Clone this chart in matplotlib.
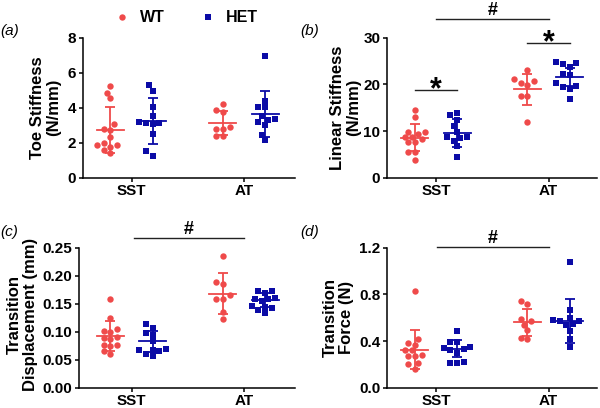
import numpy as np
import matplotlib
matplotlib.use("Agg")
import matplotlib.pyplot as plt
from matplotlib.lines import Line2D
from matplotlib.ticker import FormatStrFormatter

plt.rcParams['font.family'] = ['Liberation Sans', 'DejaVu Sans']
plt.rcParams['font.weight'] = 'bold'

groups = ["SST", "AT"]
WT_COLOR = "#EF4A4A"
HET_COLOR = "#0B0BA6"

# (a) toe stiffness
toe_wt_sst = [5.25, 4.85, 4.55, 3.05, 2.75, 2.8, 2.3, 2.0, 1.85, 1.75, 1.85, 1.4, 1.6]
toe_het_sst = [5.3, 4.97, 4.02, 3.52, 3.2, 3.1, 3.07, 3.1, 2.48, 1.5, 1.26]
toe_wt_at = [4.2, 3.77, 3.85, 2.8, 2.9, 2.8, 2.38, 2.38]
toe_het_at = [6.95, 4.4, 4.02, 4.06, 3.35, 3.3, 3.5, 3.0, 3.2, 2.45, 2.15]
toe_mean = [2.75, 3.24, 3.14, 3.63]
toe_sd = [1.31, 1.3, 0.69, 1.31]

# (b) linear stiffness
lin_wt_sst = [14.5, 13.1, 9.9, 9.9, 9.4, 8.8, 8.2, 8.8, 7.7, 7.7, 5.6, 5.6, 3.8]
lin_het_sst = [13.4, 13.8, 12.4, 11.1, 9.9, 8.8, 8.65, 7.9, 8.6, 6.8, 4.5]
lin_wt_at = [23.1, 20.7, 21.1, 19.9, 20.2, 17.6, 17.6, 12.0]
lin_het_at = [24.7, 24.3, 23.8, 24.5, 21.9, 22.2, 20.2, 19.4, 19.1, 19.6, 16.9]
lin_mean = [8.6, 9.62, 18.9, 21.5]
lin_sd = [2.85, 3.05, 3.35, 1.9]

# (c) transition displacement
disp_wt_sst = [0.158, 0.125, 0.104, 0.100, 0.102, 0.091, 0.088, 0.087, 0.077, 0.076, 0.074, 0.066, 0.060]
disp_het_sst = [0.114, 0.106, 0.097, 0.095, 0.083, 0.070, 0.068, 0.067, 0.060, 0.057, 0.066]
disp_wt_at = [0.236, 0.185, 0.188, 0.165, 0.158, 0.158, 0.136, 0.123]
disp_het_at = [0.173, 0.170, 0.173, 0.161, 0.158, 0.155, 0.158, 0.145, 0.142, 0.139, 0.146, 0.133]
disp_mean = [0.092, 0.083, 0.168, 0.157]
disp_sd = [0.027, 0.019, 0.036, 0.013]

# (d) transition force
force_wt_sst = [0.83, 0.42, 0.37, 0.38, 0.32, 0.32, 0.28, 0.27, 0.27, 0.21, 0.20, 0.16]
force_het_sst = [0.49, 0.39, 0.39, 0.35, 0.34, 0.33, 0.32, 0.30, 0.22, 0.21, 0.21]
force_wt_at = [0.745, 0.72, 0.575, 0.585, 0.54, 0.495, 0.415, 0.43]
force_het_at = [1.075, 0.67, 0.60, 0.57, 0.58, 0.57, 0.54, 0.55, 0.49, 0.42, 0.35]
force_mean = [0.327, 0.335, 0.56, 0.575]
force_sd = [0.168, 0.075, 0.115, 0.189]

W, H = 600, 408
XUNIT = 112.5   # pixels between SST and AT
OFF = 0.187     # WT / HET offset from group centre

fig = plt.figure(figsize=(6, 4.08), dpi=100)


def add_panel(left, top, right, bottom, sst_px, ymax):
    ax = fig.add_axes([left / W, 1 - bottom / H, (right - left) / W, (bottom - top) / H])
    ax.set_xlim((left - sst_px) / XUNIT, (right - sst_px) / XUNIT)
    ax.set_ylim(0, ymax)
    for s in ("top", "right"):
        ax.spines[s].set_visible(False)
    for s in ("left", "bottom"):
        ax.spines[s].set_linewidth(1.1)
    ax.set_xticks([0, 1])
    ax.set_xticklabels(groups)
    ax.tick_params(direction="out", length=3, width=1.1, labelsize=11, pad=2)
    ax.tick_params(axis="x", pad=1.5)
    return ax


def swarm(vals, ppu, d=6.6):
    # simple beeswarm in pixel space
    y = np.asarray(vals) * ppu
    xs = np.zeros(len(y))
    done = []
    cand = sorted(np.arange(-5, 5.01, 0.5) * d, key=lambda c: (abs(c), c))
    for i in np.argsort(y):
        for c in cand:
            if all((c - xs[j]) ** 2 + (y[i] - y[j]) ** 2 >= (0.92 * d) ** 2 for j in done):
                xs[i] = c
                break
        done.append(i)
    return xs / XUNIT


def draw(ax, series, means, sds, ppu):
    pos = [-OFF, OFF, 1 - OFF, 1 + OFF]
    cols = [WT_COLOR, HET_COLOR, WT_COLOR, HET_COLOR]
    marks = ["o", "s", "o", "s"]
    for x, vals, m, sd, c, mk in zip(pos, series, means, sds, cols, marks):
        ax.plot(x + swarm(vals, ppu), vals, mk, color=c, ms=4.6 if mk == "o" else 4.2,
                mew=0, zorder=2, clip_on=False)
        ax.plot([x - 0.12, x + 0.12], [m, m], color=c, lw=1.3, zorder=3)
        ax.errorbar(x, m, yerr=sd, color=c, lw=1.3, capsize=3.8, capthick=1.3, zorder=3)


def bracket(ax, x0, x1, y, sym, size, dy):
    ax.plot([x0, x1], [y, y], color="#222222", lw=1.0, clip_on=False)
    ax.annotate(sym, xy=((x0 + x1) / 2, y), xytext=(0, dy), textcoords="offset points",
                ha="center", va="baseline", fontsize=size, fontweight="bold",
                annotation_clip=False)


ax_a = add_panel(83, 37.7, 295, 177.7, 131.5, 8)
ax_a.set_yticks([0, 2, 4, 6, 8])
draw(ax_a, [toe_wt_sst, toe_het_sst, toe_wt_at, toe_het_at], toe_mean, toe_sd, 140 / 8)

ax_b = add_panel(387.3, 37.7, 597, 177.7, 436, 30)
ax_b.set_yticks([0, 10, 20, 30])
draw(ax_b, [lin_wt_sst, lin_het_sst, lin_wt_at, lin_het_at], lin_mean, lin_sd, 140 / 30)
bracket(ax_b, 0, 1, 33.9, "#", 13, 3)
bracket(ax_b, -OFF, OFF, 18.8, "*", 22, -6)
bracket(ax_b, 1 - OFF, 1 + OFF, 28.8, "*", 22, -6)

ax_c = add_panel(78.7, 247.7, 295, 387.7, 131.5, 0.25)
ax_c.set_yticks([0, 0.05, 0.10, 0.15, 0.20, 0.25])
ax_c.yaxis.set_major_formatter(FormatStrFormatter("%.2f"))
draw(ax_c, [disp_wt_sst, disp_het_sst, disp_wt_at, disp_het_at], disp_mean, disp_sd, 140 / 0.25)
bracket(ax_c, 0.02, 1, 0.267, "#", 13, 3)

ax_d = add_panel(387.3, 247.7, 597, 387.7, 436, 1.2)
ax_d.set_yticks([0, 0.4, 0.8, 1.2])
ax_d.yaxis.set_major_formatter(FormatStrFormatter("%.1f"))
draw(ax_d, [force_wt_sst, force_het_sst, force_wt_at, force_het_at], force_mean, force_sd, 140 / 1.2)
bracket(ax_d, 0.01, 1, 1.208, "#", 13, 3)

# y labels and panel letters
ylabels = [("Toe Stiffness\n(N/mm)", 46, 107.7), ("Linear Stiffness\n(N/mm)", 346, 107.7),
           ("Transition\nDisplacement (mm)", 22, 314), ("Transition\nForce (N)", 338, 317.7)]
for txt, x, y in ylabels:
    fig.text(x / W, 1 - y / H, txt, rotation=90, ha="center", va="center",
             multialignment="center", fontsize=12, fontweight="bold", linespacing=1.1)

for lab, x, y in [("(a)", 0, 31.5), ("(b)", 300, 31.5), ("(c)", 0, 232), ("(d)", 300, 232)]:
    fig.text(x / W, 1 - y / H, lab, ha="left", va="center", fontsize=11,
             fontstyle="italic", fontweight="normal")

handles = [Line2D([], [], ls="none", marker="o", ms=4.6, mew=0, color=WT_COLOR),
           Line2D([], [], ls="none", marker="s", ms=4.2, mew=0, color=HET_COLOR)]
fig.legend(handles, ["WT", "HET"], loc="center", bbox_to_anchor=(186 / W, 1 - 18 / H),
           ncol=2, frameon=False, handlelength=1.0, handletextpad=0.6, columnspacing=2.2,
           prop={"weight": "bold", "size": 11.5})

fig.savefig("out.png", dpi=100)
